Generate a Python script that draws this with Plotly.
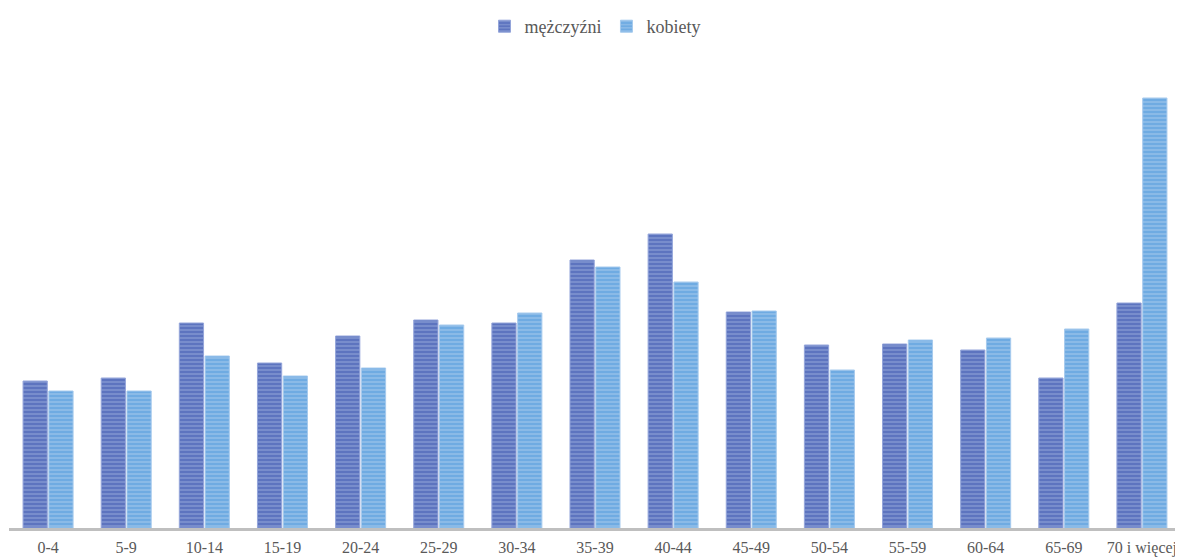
import plotly.graph_objects as go

categories = ["0-4", "5-9", "10-14", "15-19", "20-24", "25-29", "30-34", "35-39",
              "40-44", "45-49", "50-54", "55-59", "60-64", "65-69", "70 i więcej"]
men = [147, 150, 205, 165, 192, 208, 205, 268, 294, 216, 183, 184, 178, 150, 225]
women = [137, 137, 172, 152, 160, 203, 215, 261, 246, 217, 158, 188, 190, 199, 430]

fig = go.Figure()
fig.add_trace(go.Bar(
    x=categories, y=men, name="mężczyźni",
    marker=dict(color="#5d74bf", line=dict(width=1, color="#94a5da"),
                pattern=dict(shape="-", size=4, solidity=0.45, fgcolor="#9aabdc", fillmode="overlay")),
))
fig.add_trace(go.Bar(
    x=categories, y=women, name="kobiety",
    marker=dict(color="#6fabe2", line=dict(width=1, color="#a6caed"),
                pattern=dict(shape="-", size=4, solidity=0.45, fgcolor="#aacdee", fillmode="overlay")),
))

fig.update_layout(
    width=1175, height=550,
    margin=dict(l=1, r=2, t=52, b=30),
    paper_bgcolor="white", plot_bgcolor="white",
    barmode="group", bargap=0.34, bargroupgap=0.06,
    font=dict(family="Liberation Serif, DejaVu Serif, serif", size=16, color="#595959"),
    legend=dict(orientation="h", x=0.5, xanchor="center", y=1.0, yanchor="top",
                yref="container", font=dict(size=18, color="#595959"), itemwidth=30,
                traceorder="normal"),
    showlegend=True,
)
fig.update_xaxes(showline=True, linecolor="#bfbfbf", linewidth=3, ticks="",
                 ticklabelstandoff=3,
                 tickfont=dict(size=16, color="#595959"), showgrid=False)
fig.update_yaxes(range=[0, 468], visible=False, showgrid=False)

fig.write_html("out.html")
